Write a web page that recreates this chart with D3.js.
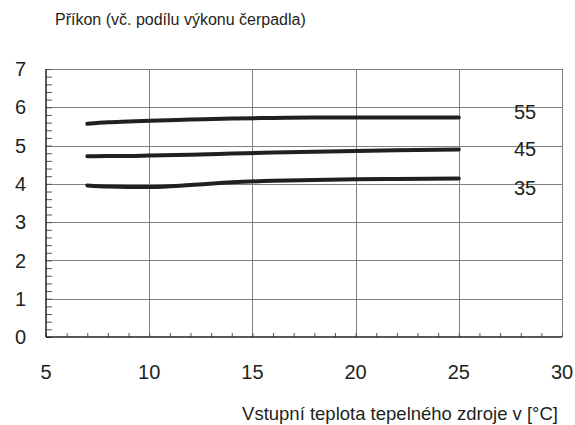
<!DOCTYPE html>
<html>
<head>
<meta charset="utf-8">
<script src="https://cdn.jsdelivr.net/npm/d3@7"></script>
<style>
  body { margin: 0; background: #fff; }
  text { font-family: 'Liberation Sans', Arial, sans-serif; fill: #231f20; }
</style>
</head>
<body>
<svg id="chart"></svg>
<script>
const width = 575
const height = 425

// data
const temps = [7, 8, 9, 10, 12, 14, 16, 18, 20, 22, 25]
const series55 = [5.57, 5.61, 5.63, 5.65, 5.68, 5.71, 5.72, 5.73, 5.73, 5.73, 5.73]
const series45 = [4.72, 4.73, 4.73, 4.74, 4.76, 4.79, 4.82, 4.84, 4.86, 4.88, 4.9]
const series35 = [3.96, 3.93, 3.92, 3.92, 3.97, 4.04, 4.08, 4.1, 4.12, 4.13, 4.14]
const seriesNames = ['55', '45', '35']
const xTicks = [5, 10, 15, 20, 25, 30]
const yTicks = [0, 1, 2, 3, 4, 5, 6, 7]

const margin = { left: 46, right: 13, top: 69, bottom: 88 }

const svg = d3
  .select('#chart')
  .attr('width', width)
  .attr('height', height)

const x = d3.scaleLinear().domain([5, 30]).range([margin.left, width - margin.right])
const y = d3.scaleLinear().domain([0, 7]).range([height - margin.bottom, margin.top])

// grid
const grid = svg.append('g').attr('stroke', '#808080').attr('stroke-width', 1)
grid
  .selectAll('line.h')
  .data(yTicks.slice(1))
  .join('line')
  .attr('class', 'h')
  .attr('x1', x(5))
  .attr('x2', x(30))
  .attr('y1', (d) => Math.round(y(d)) + 0.5)
  .attr('y2', (d) => Math.round(y(d)) + 0.5)
grid
  .selectAll('line.v')
  .data(xTicks.slice(1))
  .join('line')
  .attr('class', 'v')
  .attr('x1', (d) => Math.round(x(d)) + 0.5)
  .attr('x2', (d) => Math.round(x(d)) + 0.5)
  .attr('y1', y(0))
  .attr('y2', y(7))

// minor ticks
const yMinor = svg
  .append('g')
  .attr('transform', `translate(${x(5)},0)`)
  .call(
    d3.axisRight(y)
      .tickValues(d3.range(0, 7.01, 0.2))
      .tickSize(6)
      .tickFormat('')
  )
yMinor.select('.domain').remove()
yMinor.selectAll('line').attr('stroke', '#555')

const xMinor = svg
  .append('g')
  .attr('transform', `translate(0,${y(0)})`)
  .call(
    d3.axisTop(x)
      .tickValues(d3.range(5, 30.01, 1))
      .tickSize(4)
      .tickFormat('')
  )
xMinor.select('.domain').remove()
xMinor.selectAll('line').attr('stroke', '#555')

// axis lines
svg
  .append('line')
  .attr('x1', x(5))
  .attr('x2', x(5))
  .attr('y1', y(0))
  .attr('y2', y(7))
  .attr('stroke', '#231f20')
  .attr('stroke-width', 1.5)
svg
  .append('line')
  .attr('x1', x(5))
  .attr('x2', x(30))
  .attr('y1', y(0))
  .attr('y2', y(0))
  .attr('stroke', '#231f20')
  .attr('stroke-width', 1.5)

// tick labels
svg
  .append('g')
  .selectAll('text')
  .data(yTicks)
  .join('text')
  .attr('x', 26)
  .attr('y', (d) => y(d))
  .attr('dy', '0.36em')
  .attr('text-anchor', 'end')
  .attr('font-size', 20)
  .text((d) => d)

svg
  .append('g')
  .selectAll('text')
  .data(xTicks)
  .join('text')
  .attr('x', (d) => x(d))
  .attr('y', 379)
  .attr('text-anchor', 'middle')
  .attr('font-size', 20)
  .text((d) => d)

// curves
const allSeries = [series55, series45, series35]
const line = d3
  .line()
  .x((d, i) => x(temps[i]))
  .y((d) => y(d))
  .curve(d3.curveMonotoneX)

svg
  .append('g')
  .selectAll('path')
  .data(allSeries)
  .join('path')
  .attr('d', (d) => line(d))
  .attr('fill', 'none')
  .attr('stroke', '#231f20')
  .attr('stroke-width', 4)
  .attr('stroke-linecap', 'round')

// series labels
const labelOffsets = [-6, -1, 9]
svg
  .append('g')
  .selectAll('text')
  .data(allSeries)
  .join('text')
  .attr('x', 525)
  .attr('y', (d, i) => y(d[d.length - 1]) + labelOffsets[i])
  .attr('dy', '0.36em')
  .attr('text-anchor', 'middle')
  .attr('font-size', 20)
  .text((d, i) => seriesNames[i])

// titles
svg
  .append('text')
  .attr('x', 55)
  .attr('y', 25)
  .attr('font-size', 16)
  .text('Příkon (vč. podílu výkonu čerpadla)')

svg
  .append('text')
  .attr('x', 558)
  .attr('y', 420)
  .attr('text-anchor', 'end')
  .attr('font-size', 18.5)
  .text('Vstupní teplota tepelného zdroje v [°C]')
</script>
</body>
</html>
